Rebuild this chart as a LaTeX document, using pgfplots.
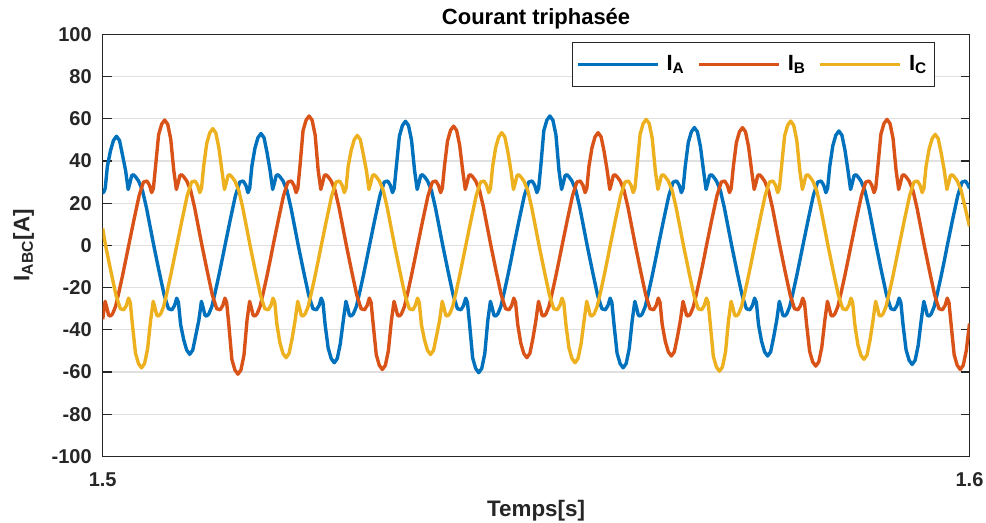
\documentclass[border=0pt]{standalone}
\usepackage{fontspec}
\setmainfont{Liberation Sans}
\usepackage{pgfplots}
\pgfplotsset{compat=1.18}
\definecolor{mblue}{rgb}{0,0.447,0.741}
\definecolor{morange}{rgb}{0.850,0.325,0.098}
\definecolor{myellow}{rgb}{0.929,0.694,0.125}
\definecolor{axgray}{rgb}{0.15,0.15,0.15}
\pgfplotsset{every axis title/.style={at={(0.5,1)}, anchor=base, yshift=5pt}}
\begin{document}
\begin{tikzpicture}
\begin{axis}[
  name=ax, scale only axis, width=433.4pt, height=211.1pt,
  xmin=1.5, xmax=1.6, ymin=-100, ymax=100,
  xtick={1.5,1.6}, xticklabels={1.5,1.6},
  ytick={-100,-80,-60,-40,-20,0,20,40,60,80,100},
  yticklabels={-100,-80,-60,-40,-20,0,20,40,60,80,100},
  ymajorgrids, major grid style={color=black!12, line width=0.6pt},
  tick align=inside, major tick length=4.5pt,
  tick style={axgray, line width=0.6pt},
  axis line style={axgray, line width=0.7pt},
  ticklabel style={font=\bfseries\fontsize{10}{12}\selectfont, text=axgray},
  yticklabel style={xshift=-2pt}, xticklabel style={yshift=-4.5pt, inner xsep=0pt},
  title={Courant triphasée},
  title style={font=\bfseries\fontsize{11}{13}\selectfont},
  xlabel={Temps[s]},
  xlabel style={font=\bfseries\fontsize{11.2}{13}\selectfont, text=axgray, inner sep=0pt, at={(axis description cs:0.5,-0.1433)}, anchor=base},
  ylabel={I\textsubscript{ABC}[A]},
  ylabel style={font=\bfseries\fontsize{11.2}{13}\selectfont, text=axgray, inner sep=0pt, at={(axis description cs:-0.0845,0.5)}, anchor=base},
  legend style={at={(1,1)}, anchor=north east, xshift=-17.25pt, yshift=-3.85pt, draw=axgray, line width=0.5pt,
    font=\bfseries\fontsize{11}{13}\selectfont, text=black, legend columns=3, inner xsep=1.8pt, inner ysep=4.5pt,
    nodes={inner xsep=1.8pt},
    /tikz/every odd column/.append style={column sep=1.7pt},
    /tikz/every even column/.append style={column sep=4.5pt}},
  legend image code/.code={\draw[#1] (0pt,0pt) -- (40pt,0pt);},
  every axis plot/.append style={line width=1.7pt, line join=round},
]
\addplot[mblue] coordinates {
(1.5,26) (1.50009,25) (1.50029,27) (1.50054,37.5) (1.50089,44.7) (1.50124,49.7) (1.50159,51.7) (1.50194,49.7) (1.50229,42.7) (1.50264,35.5) (1.50294,26.5) (1.50314,29.5) (1.50334,33) (1.50354,33.5) (1.50379,32.5) (1.50414,30.5) (1.50459,26) (1.50504,18) (1.50549,8.5)
(1.50589,0) (1.50649,-12) (1.50709,-23.5) (1.50759,-30) (1.50799,-30.5) (1.50829,-28.5) (1.50854,-25) (1.50874,-27) (1.50899,-37.5) (1.50934,-44.6) (1.50969,-49.6) (1.51004,-51.6) (1.51039,-49.6) (1.51074,-42.6) (1.51109,-35.5) (1.51139,-26.5) (1.51159,-29.5) (1.51179,-33) (1.51199,-33.5) (1.51224,-32.5) (1.51259,-29) (1.51299,-22) (1.51339,-14.5) (1.51379,-6.5)
(1.51411,0) (1.51471,12) (1.51531,23.5) (1.51581,30) (1.51621,30.5) (1.51651,28.5) (1.51676,25) (1.51696,27) (1.51721,37.5) (1.51756,46) (1.51791,51) (1.51826,53) (1.51861,51) (1.51896,44) (1.51931,35.5) (1.51961,26.5) (1.51981,29.5) (1.52001,33) (1.52021,33.5) (1.52046,32.5) (1.52081,30.5) (1.52126,26) (1.52171,18) (1.52216,8.5)
(1.52256,0) (1.52316,-12) (1.52376,-23.5) (1.52426,-30) (1.52466,-30.5) (1.52496,-28.5) (1.52521,-25) (1.52541,-27) (1.52566,-37.5) (1.52601,-48.6) (1.52636,-53.6) (1.52671,-55.6) (1.52706,-53.6) (1.52741,-46.6) (1.52776,-35.5) (1.52806,-26.5) (1.52826,-29.5) (1.52846,-33) (1.52866,-33.5) (1.52891,-32.5) (1.52926,-29) (1.52966,-22) (1.53006,-14.5) (1.53046,-6.5)
(1.53078,0) (1.53138,12) (1.53198,23.5) (1.53248,30) (1.53288,30.5) (1.53318,28.5) (1.53343,25) (1.53363,27) (1.53388,37.5) (1.53423,51.8) (1.53458,56.8) (1.53493,58.8) (1.53528,56.8) (1.53563,49.8) (1.53598,35.5) (1.53628,26.5) (1.53648,29.5) (1.53668,33) (1.53688,33.5) (1.53713,32.5) (1.53748,30.5) (1.53793,26) (1.53838,18) (1.53883,8.5)
(1.53923,0) (1.53983,-12) (1.54043,-23.5) (1.54093,-30) (1.54133,-30.5) (1.54163,-28.5) (1.54188,-25) (1.54208,-27) (1.54233,-37.5) (1.54268,-53.3) (1.54303,-58.3) (1.54338,-60.3) (1.54373,-58.3) (1.54408,-51.3) (1.54443,-35.5) (1.54473,-26.5) (1.54493,-29.5) (1.54513,-33) (1.54533,-33.5) (1.54558,-32.5) (1.54593,-29) (1.54633,-22) (1.54673,-14.5) (1.54713,-6.5)
(1.54744,0) (1.54804,12) (1.54864,23.5) (1.54914,30) (1.54954,30.5) (1.54984,28.5) (1.55009,25) (1.55029,27) (1.55054,37.5) (1.55089,54.3) (1.55124,59.3) (1.55159,61.3) (1.55194,59.3) (1.55229,52.3) (1.55264,35.5) (1.55294,26.5) (1.55314,29.5) (1.55334,33) (1.55354,33.5) (1.55379,32.5) (1.55414,30.5) (1.55459,26) (1.55504,18) (1.55549,8.5)
(1.55589,0) (1.55649,-12) (1.55709,-23.5) (1.55759,-30) (1.55799,-30.5) (1.55829,-28.5) (1.55854,-25) (1.55874,-27) (1.55899,-37.5) (1.55934,-51) (1.55969,-56) (1.56004,-58) (1.56039,-56) (1.56074,-49) (1.56109,-35.5) (1.56139,-26.5) (1.56159,-29.5) (1.56179,-33) (1.56199,-33.5) (1.56224,-32.5) (1.56259,-29) (1.56299,-22) (1.56339,-14.5) (1.56379,-6.5)
(1.56411,0) (1.56471,12) (1.56531,23.5) (1.56581,30) (1.56621,30.5) (1.56651,28.5) (1.56676,25) (1.56696,27) (1.56721,37.5) (1.56756,48.8) (1.56791,53.8) (1.56826,55.8) (1.56861,53.8) (1.56896,46.8) (1.56931,35.5) (1.56961,26.5) (1.56981,29.5) (1.57001,33) (1.57021,33.5) (1.57046,32.5) (1.57081,30.5) (1.57126,26) (1.57171,18) (1.57216,8.5)
(1.57256,0) (1.57316,-12) (1.57376,-23.5) (1.57426,-30) (1.57466,-30.5) (1.57496,-28.5) (1.57521,-25) (1.57541,-27) (1.57566,-37.5) (1.57601,-45.4) (1.57636,-50.4) (1.57671,-52.4) (1.57706,-50.4) (1.57741,-43.4) (1.57776,-35.5) (1.57806,-26.5) (1.57826,-29.5) (1.57846,-33) (1.57866,-33.5) (1.57891,-32.5) (1.57926,-29) (1.57966,-22) (1.58006,-14.5) (1.58046,-6.5)
(1.58078,0) (1.58138,12) (1.58198,23.5) (1.58248,30) (1.58288,30.5) (1.58318,28.5) (1.58343,25) (1.58363,27) (1.58388,37.5) (1.58423,47.2) (1.58458,52.2) (1.58493,54.2) (1.58528,52.2) (1.58563,45.2) (1.58598,35.5) (1.58628,26.5) (1.58648,29.5) (1.58668,33) (1.58688,33.5) (1.58713,32.5) (1.58748,30.5) (1.58793,26) (1.58838,18) (1.58883,8.5)
(1.58923,0) (1.58983,-12) (1.59043,-23.5) (1.59093,-30) (1.59133,-30.5) (1.59163,-28.5) (1.59188,-25) (1.59208,-27) (1.59233,-37.5) (1.59268,-49.4) (1.59303,-54.4) (1.59338,-56.4) (1.59373,-54.4) (1.59408,-47.4) (1.59443,-35.5) (1.59473,-26.5) (1.59493,-29.5) (1.59513,-33) (1.59533,-33.5) (1.59558,-32.5) (1.59593,-29) (1.59633,-22) (1.59673,-14.5) (1.59713,-6.5)
(1.59744,0) (1.59804,12) (1.59864,23.5) (1.59914,30) (1.59954,30.5) (1.59984,28.5) (1.6,27)
};
\addlegendentry{I\textsubscript{A}}
\addplot[morange] coordinates {
(1.5,-35) (1.50028,-26.5) (1.50048,-29.5) (1.50068,-33) (1.50088,-33.5) (1.50113,-32.5) (1.50148,-29) (1.50188,-22) (1.50228,-14.5) (1.50268,-6.5)
(1.50300,0) (1.50360,12) (1.50420,23.5) (1.50470,30) (1.50510,30.5) (1.50540,28.5) (1.50565,25) (1.50585,27) (1.50610,37.5) (1.50645,52.4) (1.50680,57.4) (1.50715,59.4) (1.50750,57.4) (1.50785,50.4) (1.50820,35.5) (1.50850,26.5) (1.50870,29.5) (1.50890,33) (1.50910,33.5) (1.50935,32.5) (1.50970,30.5) (1.51015,26) (1.51060,18) (1.51105,8.5)
(1.51145,0) (1.51205,-12) (1.51265,-23.5) (1.51315,-30) (1.51355,-30.5) (1.51385,-28.5) (1.51410,-25) (1.51430,-27) (1.51455,-37.5) (1.51490,-54) (1.51525,-59) (1.51560,-61) (1.51595,-59) (1.51630,-52) (1.51665,-35.5) (1.51695,-26.5) (1.51715,-29.5) (1.51735,-33) (1.51755,-33.5) (1.51780,-32.5) (1.51815,-29) (1.51855,-22) (1.51895,-14.5) (1.51935,-6.5)
(1.51966,0) (1.52026,12) (1.52086,23.5) (1.52136,30) (1.52176,30.5) (1.52206,28.5) (1.52231,25) (1.52251,27) (1.52276,37.5) (1.52311,54.3) (1.52346,59.3) (1.52381,61.3) (1.52416,59.3) (1.52451,52.3) (1.52486,35.5) (1.52516,26.5) (1.52536,29.5) (1.52556,33) (1.52576,33.5) (1.52601,32.5) (1.52636,30.5) (1.52681,26) (1.52726,18) (1.52771,8.5)
(1.52811,0) (1.52871,-12) (1.52931,-23.5) (1.52981,-30) (1.53021,-30.5) (1.53051,-28.5) (1.53076,-25) (1.53096,-27) (1.53121,-37.5) (1.53156,-51.8) (1.53191,-56.8) (1.53226,-58.8) (1.53261,-56.8) (1.53296,-49.8) (1.53331,-35.5) (1.53361,-26.5) (1.53381,-29.5) (1.53401,-33) (1.53421,-33.5) (1.53446,-32.5) (1.53481,-29) (1.53521,-22) (1.53561,-14.5) (1.53601,-6.5)
(1.53633,0) (1.53693,12) (1.53753,23.5) (1.53803,30) (1.53843,30.5) (1.53873,28.5) (1.53898,25) (1.53918,27) (1.53943,37.5) (1.53978,49.5) (1.54013,54.5) (1.54048,56.5) (1.54083,54.5) (1.54118,47.5) (1.54153,35.5) (1.54183,26.5) (1.54203,29.5) (1.54223,33) (1.54243,33.5) (1.54268,32.5) (1.54303,30.5) (1.54348,26) (1.54393,18) (1.54438,8.5)
(1.54478,0) (1.54538,-12) (1.54598,-23.5) (1.54648,-30) (1.54688,-30.5) (1.54718,-28.5) (1.54743,-25) (1.54763,-27) (1.54788,-37.5) (1.54823,-46.2) (1.54858,-51.2) (1.54893,-53.2) (1.54928,-51.2) (1.54963,-44.2) (1.54998,-35.5) (1.55028,-26.5) (1.55048,-29.5) (1.55068,-33) (1.55088,-33.5) (1.55113,-32.5) (1.55148,-29) (1.55188,-22) (1.55228,-14.5) (1.55268,-6.5)
(1.55300,0) (1.55360,12) (1.55420,23.5) (1.55470,30) (1.55510,30.5) (1.55540,28.5) (1.55565,25) (1.55585,27) (1.55610,37.5) (1.55645,46.4) (1.55680,51.4) (1.55715,53.4) (1.55750,51.4) (1.55785,44.4) (1.55820,35.5) (1.55850,26.5) (1.55870,29.5) (1.55890,33) (1.55910,33.5) (1.55935,32.5) (1.55970,30.5) (1.56015,26) (1.56060,18) (1.56105,8.5)
(1.56145,0) (1.56205,-12) (1.56265,-23.5) (1.56315,-30) (1.56355,-30.5) (1.56385,-28.5) (1.56410,-25) (1.56430,-27) (1.56455,-37.5) (1.56490,-45.4) (1.56525,-50.4) (1.56560,-52.4) (1.56595,-50.4) (1.56630,-43.4) (1.56665,-35.5) (1.56695,-26.5) (1.56715,-29.5) (1.56735,-33) (1.56755,-33.5) (1.56780,-32.5) (1.56815,-29) (1.56855,-22) (1.56895,-14.5) (1.56935,-6.5)
(1.56966,0) (1.57026,12) (1.57086,23.5) (1.57136,30) (1.57176,30.5) (1.57206,28.5) (1.57231,25) (1.57251,27) (1.57276,37.5) (1.57311,48.8) (1.57346,53.8) (1.57381,55.8) (1.57416,53.8) (1.57451,46.8) (1.57486,35.5) (1.57516,26.5) (1.57536,29.5) (1.57556,33) (1.57576,33.5) (1.57601,32.5) (1.57636,30.5) (1.57681,26) (1.57726,18) (1.57771,8.5)
(1.57811,0) (1.57871,-12) (1.57931,-23.5) (1.57981,-30) (1.58021,-30.5) (1.58051,-28.5) (1.58076,-25) (1.58096,-27) (1.58121,-37.5) (1.58156,-50.2) (1.58191,-55.2) (1.58226,-57.2) (1.58261,-55.2) (1.58296,-48.2) (1.58331,-35.5) (1.58361,-26.5) (1.58381,-29.5) (1.58401,-33) (1.58421,-33.5) (1.58446,-32.5) (1.58481,-29) (1.58521,-22) (1.58561,-14.5) (1.58601,-6.5)
(1.58633,0) (1.58693,12) (1.58753,23.5) (1.58803,30) (1.58843,30.5) (1.58873,28.5) (1.58898,25) (1.58918,27) (1.58943,37.5) (1.58978,52.7) (1.59013,57.7) (1.59048,59.7) (1.59083,57.7) (1.59118,50.7) (1.59153,35.5) (1.59183,26.5) (1.59203,29.5) (1.59223,33) (1.59243,33.5) (1.59268,32.5) (1.59303,30.5) (1.59348,26) (1.59393,18) (1.59438,8.5)
(1.59478,0) (1.59538,-12) (1.59598,-23.5) (1.59648,-30) (1.59688,-30.5) (1.59718,-28.5) (1.59743,-25) (1.59763,-27) (1.59788,-37.5) (1.59823,-51.8) (1.59858,-56.8) (1.59893,-58.8) (1.59928,-56.8) (1.59963,-49.8) (1.6,-37)
};
\addlegendentry{I\textsubscript{B}}
\addplot[myellow] coordinates {
(1.5,8)
(1.50033,0) (1.50093,-12) (1.50153,-23.5) (1.50203,-30) (1.50243,-30.5) (1.50273,-28.5) (1.50298,-25) (1.50318,-27) (1.50343,-37.5) (1.50378,-51) (1.50413,-56) (1.50448,-58) (1.50483,-56) (1.50518,-49) (1.50553,-35.5) (1.50583,-26.5) (1.50603,-29.5) (1.50623,-33) (1.50643,-33.5) (1.50668,-32.5) (1.50703,-29) (1.50743,-22) (1.50783,-14.5) (1.50823,-6.5)
(1.50855,0) (1.50915,12) (1.50975,23.5) (1.51025,30) (1.51065,30.5) (1.51095,28.5) (1.51120,25) (1.51140,27) (1.51165,37.5) (1.51200,48.3) (1.51235,53.3) (1.51270,55.3) (1.51305,53.3) (1.51340,46.3) (1.51375,35.5) (1.51405,26.5) (1.51425,29.5) (1.51445,33) (1.51465,33.5) (1.51490,32.5) (1.51525,30.5) (1.51570,26) (1.51615,18) (1.51660,8.5)
(1.51700,0) (1.51760,-12) (1.51820,-23.5) (1.51870,-30) (1.51910,-30.5) (1.51940,-28.5) (1.51965,-25) (1.51985,-27) (1.52010,-37.5) (1.52045,-46.2) (1.52080,-51.2) (1.52115,-53.2) (1.52150,-51.2) (1.52185,-44.2) (1.52220,-35.5) (1.52250,-26.5) (1.52270,-29.5) (1.52290,-33) (1.52310,-33.5) (1.52335,-32.5) (1.52370,-29) (1.52410,-22) (1.52450,-14.5) (1.52490,-6.5)
(1.52522,0) (1.52582,12) (1.52642,23.5) (1.52692,30) (1.52732,30.5) (1.52762,28.5) (1.52787,25) (1.52807,27) (1.52832,37.5) (1.52867,45.1) (1.52902,50.1) (1.52937,52.1) (1.52972,50.1) (1.53007,43.1) (1.53042,35.5) (1.53072,26.5) (1.53092,29.5) (1.53112,33) (1.53132,33.5) (1.53157,32.5) (1.53192,30.5) (1.53237,26) (1.53282,18) (1.53327,8.5)
(1.53367,0) (1.53427,-12) (1.53487,-23.5) (1.53537,-30) (1.53577,-30.5) (1.53607,-28.5) (1.53632,-25) (1.53652,-27) (1.53677,-37.5) (1.53712,-44.7) (1.53747,-49.7) (1.53782,-51.7) (1.53817,-49.7) (1.53852,-42.7) (1.53887,-35.5) (1.53917,-26.5) (1.53937,-29.5) (1.53957,-33) (1.53977,-33.5) (1.54002,-32.5) (1.54037,-29) (1.54077,-22) (1.54117,-14.5) (1.54157,-6.5)
(1.54189,0) (1.54249,12) (1.54309,23.5) (1.54359,30) (1.54399,30.5) (1.54429,28.5) (1.54454,25) (1.54474,27) (1.54499,37.5) (1.54534,46.4) (1.54569,51.4) (1.54604,53.4) (1.54639,51.4) (1.54674,44.4) (1.54709,35.5) (1.54739,26.5) (1.54759,29.5) (1.54779,33) (1.54799,33.5) (1.54824,32.5) (1.54859,30.5) (1.54904,26) (1.54949,18) (1.54994,8.5)
(1.55034,0) (1.55094,-12) (1.55154,-23.5) (1.55204,-30) (1.55244,-30.5) (1.55274,-28.5) (1.55299,-25) (1.55319,-27) (1.55344,-37.5) (1.55379,-48.6) (1.55414,-53.6) (1.55449,-55.6) (1.55484,-53.6) (1.55519,-46.6) (1.55554,-35.5) (1.55584,-26.5) (1.55604,-29.5) (1.55624,-33) (1.55644,-33.5) (1.55669,-32.5) (1.55704,-29) (1.55744,-22) (1.55784,-14.5) (1.55824,-6.5)
(1.55855,0) (1.55915,12) (1.55975,23.5) (1.56025,30) (1.56065,30.5) (1.56095,28.5) (1.56120,25) (1.56140,27) (1.56165,37.5) (1.56200,52.7) (1.56235,57.7) (1.56270,59.7) (1.56305,57.7) (1.56340,50.7) (1.56375,35.5) (1.56405,26.5) (1.56425,29.5) (1.56445,33) (1.56465,33.5) (1.56490,32.5) (1.56525,30.5) (1.56570,26) (1.56615,18) (1.56660,8.5)
(1.56700,0) (1.56760,-12) (1.56820,-23.5) (1.56870,-30) (1.56910,-30.5) (1.56940,-28.5) (1.56965,-25) (1.56985,-27) (1.57010,-37.5) (1.57045,-52.6) (1.57080,-57.6) (1.57115,-59.6) (1.57150,-57.6) (1.57185,-50.6) (1.57220,-35.5) (1.57250,-26.5) (1.57270,-29.5) (1.57290,-33) (1.57310,-33.5) (1.57335,-32.5) (1.57370,-29) (1.57410,-22) (1.57450,-14.5) (1.57490,-6.5)
(1.57522,0) (1.57582,12) (1.57642,23.5) (1.57692,30) (1.57732,30.5) (1.57762,28.5) (1.57787,25) (1.57807,27) (1.57832,37.5) (1.57867,51.9) (1.57902,56.9) (1.57937,58.9) (1.57972,56.9) (1.58007,49.9) (1.58042,35.5) (1.58072,26.5) (1.58092,29.5) (1.58112,33) (1.58132,33.5) (1.58157,32.5) (1.58192,30.5) (1.58237,26) (1.58282,18) (1.58327,8.5)
(1.58367,0) (1.58427,-12) (1.58487,-23.5) (1.58537,-30) (1.58577,-30.5) (1.58607,-28.5) (1.58632,-25) (1.58652,-27) (1.58677,-37.5) (1.58712,-47) (1.58747,-52) (1.58782,-54) (1.58817,-52) (1.58852,-45) (1.58887,-35.5) (1.58917,-26.5) (1.58937,-29.5) (1.58957,-33) (1.58977,-33.5) (1.59002,-32.5) (1.59037,-29) (1.59077,-22) (1.59117,-14.5) (1.59157,-6.5)
(1.59189,0) (1.59249,12) (1.59309,23.5) (1.59359,30) (1.59399,30.5) (1.59429,28.5) (1.59454,25) (1.59474,27) (1.59499,37.5) (1.59534,45.6) (1.59569,50.6) (1.59604,52.6) (1.59639,50.6) (1.59674,43.6) (1.59709,35.5) (1.59739,26.5) (1.59759,29.5) (1.59779,33) (1.59799,33.5) (1.59824,32.5) (1.59859,30.5) (1.59904,26) (1.59949,18) (1.6,9)
};
\addlegendentry{I\textsubscript{C}}
\end{axis}
\path ([xshift=-51.35pt,yshift=-33.25pt]ax.south west) rectangle ([xshift=8.25pt,yshift=17.15pt]ax.north east);
\end{tikzpicture}
\end{document}
